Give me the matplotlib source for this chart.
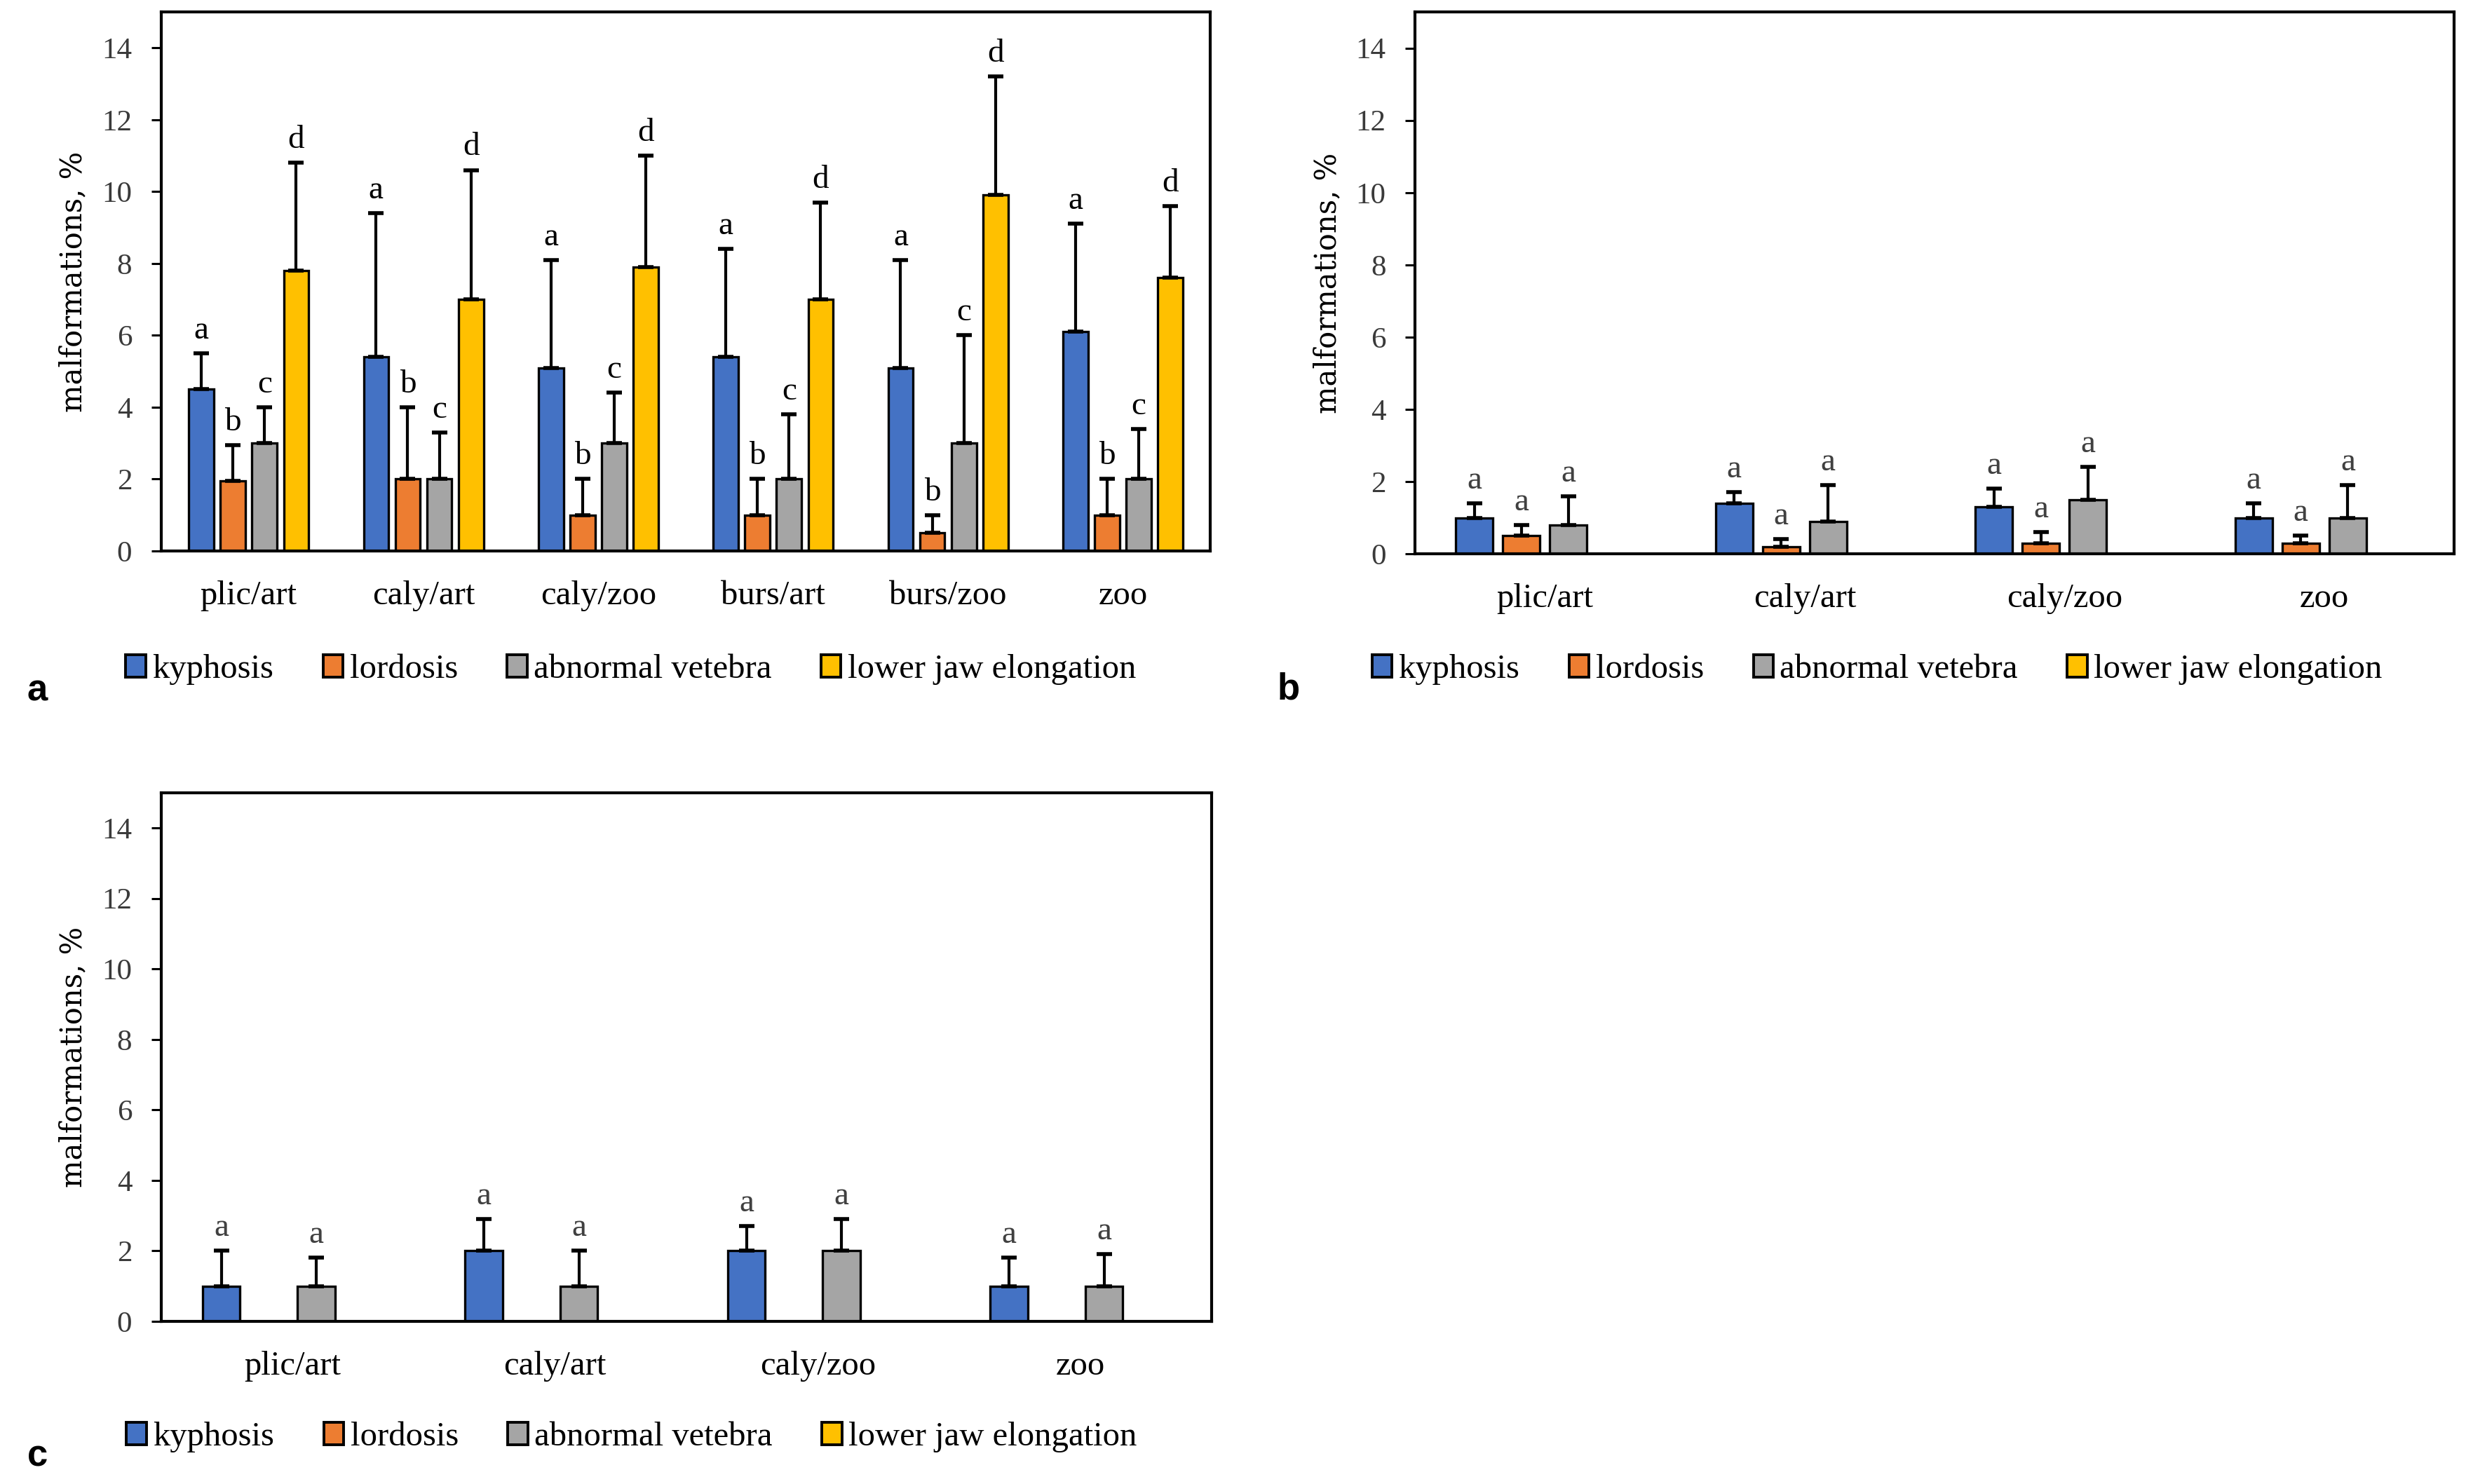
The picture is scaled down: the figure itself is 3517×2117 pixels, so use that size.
import numpy as np
import matplotlib
matplotlib.use("Agg")
import matplotlib.pyplot as plt
from matplotlib.patches import Patch

plt.rcParams['font.family'] = ['Liberation Serif', 'DejaVu Serif']

# Данные
series = ["kyphosis", "lordosis", "abnormal vetebra", "lower jaw elongation"]
colors = ["#4472C4", "#ED7D31", "#A5A5A5", "#FFC000"]

cats_a = ["plic/art", "caly/art", "caly/zoo", "burs/art", "burs/zoo", "zoo"]
kyph_a = [4.5, 5.4, 5.1, 5.4, 5.1, 6.1]
kyph_a_err = [1.0, 4.0, 3.0, 3.0, 3.0, 3.0]
lord_a = [1.95, 2.0, 1.0, 1.0, 0.5, 1.0]
lord_a_err = [1.0, 2.0, 1.0, 1.0, 0.5, 1.0]
vert_a = [3.0, 2.0, 3.0, 2.0, 3.0, 2.0]
vert_a_err = [1.0, 1.3, 1.4, 1.8, 3.0, 1.4]
jaw_a = [7.8, 7.0, 7.9, 7.0, 9.9, 7.6]
jaw_a_err = [3.0, 3.6, 3.1, 2.7, 3.3, 2.0]
letters_a = ["a", "b", "c", "d"]

cats_b = ["plic/art", "caly/art", "caly/zoo", "zoo"]
kyph_b = [1.0, 1.4, 1.3, 1.0]
kyph_b_err = [0.4, 0.3, 0.5, 0.4]
lord_b = [0.5, 0.2, 0.3, 0.3]
lord_b_err = [0.3, 0.2, 0.3, 0.2]
vert_b = [0.8, 0.9, 1.5, 1.0]
vert_b_err = [0.8, 1.0, 0.9, 0.9]
jaw_b = [np.nan, np.nan, np.nan, np.nan]
jaw_b_err = [np.nan, np.nan, np.nan, np.nan]
letters_b = ["a", "a", "a", "a"]

cats_c = ["plic/art", "caly/art", "caly/zoo", "zoo"]
kyph_c = [1.0, 2.0, 2.0, 1.0]
kyph_c_err = [1.0, 0.9, 0.7, 0.8]
lord_c = [np.nan, np.nan, np.nan, np.nan]
lord_c_err = [np.nan, np.nan, np.nan, np.nan]
vert_c = [1.0, 1.0, 2.0, 1.0]
vert_c_err = [0.8, 1.0, 0.9, 0.9]
jaw_c = [np.nan, np.nan, np.nan, np.nan]
jaw_c_err = [np.nan, np.nan, np.nan, np.nan]
letters_c = ["a", "a", "a", "a"]

yticks = [0, 2, 4, 6, 8, 10, 12, 14]

step = 0.181
bar_w = 0.143
fs = 35


def draw_panel(ax, cats, vals, errs, letters, letter_color):
    x = np.arange(len(cats))
    for k in range(4):
        v = np.array(vals[k], dtype=float)
        e = np.array(errs[k], dtype=float)
        xk = x + (k - 1.5) * step
        ax.bar(xk, v, bar_w, color=colors[k], edgecolor="black", linewidth=2.4, zorder=2)
        ok = ~np.isnan(v)
        if ok.any():
            ax.errorbar(xk[ok], v[ok], yerr=[np.zeros(ok.sum()), e[ok]], fmt="none",
                        ecolor="black", elinewidth=3, capsize=8, capthick=4, zorder=3)
            for xi, vi, ei in zip(xk[ok], v[ok], e[ok]):
                ax.annotate(letters[k], xy=(xi, vi + ei), xytext=(0, 8), textcoords="offset points",
                            ha="center", va="bottom", fontsize=34, color=letter_color)
    ax.set_xlim(-0.5, len(cats) - 0.5)
    ax.set_ylim(0, 15)
    ax.set_yticks(yticks)
    ax.set_xticks(x)
    ax.set_xticklabels(cats, fontsize=fs)
    ax.tick_params(axis="x", length=0, pad=30)
    ax.tick_params(axis="y", length=10, width=2.2, pad=20, labelsize=31, labelcolor="#3a3a3a")
    for sp in ax.spines.values():
        sp.set_linewidth(3)
    ax.set_ylabel("malformations, %", fontsize=30, family=["DejaVu Serif"], va="center")
    ax.yaxis.set_label_coords(-0.084, 0.5)


fig = plt.figure(figsize=(35.17, 21.17), dpi=100)
ax_a = fig.add_axes([0.0654, 0.6287, 0.4254, 0.3633])
ax_b = fig.add_axes([0.5738, 0.6268, 0.4214, 0.3651])
ax_c = fig.add_axes([0.0654, 0.1096, 0.4259, 0.3562])

draw_panel(ax_a, cats_a, [kyph_a, lord_a, vert_a, jaw_a],
           [kyph_a_err, lord_a_err, vert_a_err, jaw_a_err], letters_a, "black")
draw_panel(ax_b, cats_b, [kyph_b, lord_b, vert_b, jaw_b],
           [kyph_b_err, lord_b_err, vert_b_err, jaw_b_err], letters_b, "#404040")
draw_panel(ax_c, cats_c, [kyph_c, lord_c, vert_c, jaw_c],
           [kyph_c_err, lord_c_err, vert_c_err, jaw_c_err], letters_c, "#404040")

# Легенды
handles = [Patch(facecolor=c, edgecolor="black", linewidth=2.8) for c in colors]
for cx, cy in [(0.2559, 0.5489), (0.7612, 0.5489), (0.2562, 0.0316)]:
    fig.legend(handles, series, loc="center", bbox_to_anchor=(cx, cy), ncol=4, frameon=False,
               fontsize=fs, handlelength=0.58, handleheight=0.62, handletextpad=0.2,
               columnspacing=1.45, borderpad=0, borderaxespad=0)

# Подписи панелей
lbl_font = dict(fontsize=38, fontweight="bold", family=["Liberation Sans Narrow", "Liberation Sans"])
fig.text(39 / 3517, 1 - 1000 / 2117, "a", ha="left", va="baseline", **lbl_font)
fig.text(1822 / 3517, 1 - 998 / 2117, "b", ha="left", va="baseline", **lbl_font)
fig.text(39 / 3517, 1 - 2092 / 2117, "c", ha="left", va="baseline", **lbl_font)

fig.savefig("out.png", dpi=100)
